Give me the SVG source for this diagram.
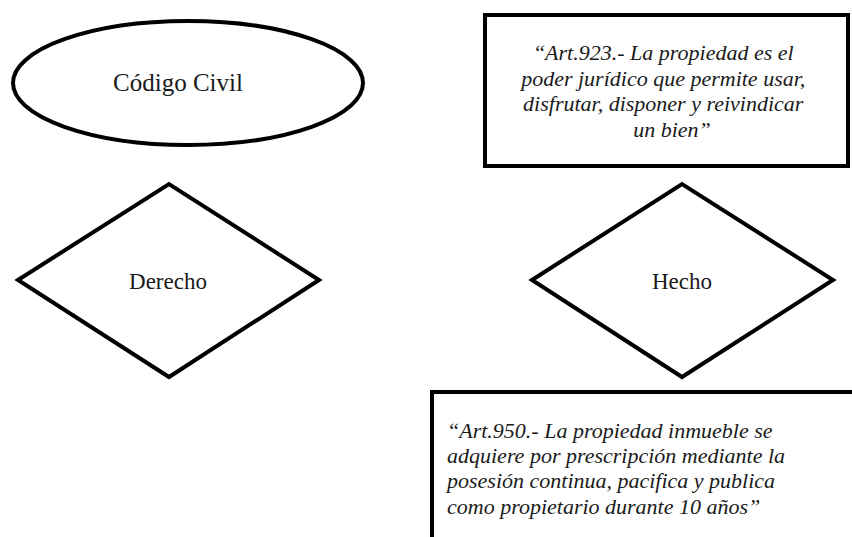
<svg xmlns="http://www.w3.org/2000/svg" width="852" height="537" viewBox="0 0 852 537">
<style>
.shape{fill:#fff;stroke:#000;stroke-width:4;stroke-linejoin:miter}
.lbl{font-family:"Liberation Serif",serif;fill:#1a1a1a}
.quote{font-family:"Liberation Serif",serif;font-style:italic;font-size:22px;fill:#1a1a1a}
</style>
<rect width="852" height="537" fill="#fff"/>
<g id="connectors"></g>
<g id="codigo-civil">
<ellipse class="shape" cx="188" cy="83" rx="175" ry="62" stroke-width="3.5"/>
<text class="lbl" x="178" y="91" font-size="25" text-anchor="middle">Código Civil</text>
</g>
<g id="art923">
<rect class="shape" x="485" y="15" width="363" height="151"/>
<text class="quote" text-anchor="middle">
<tspan x="666" y="60">“Art.923.- La propiedad es el</tspan>
<tspan x="666" y="86">poder jurídico que permite usar,</tspan>
<tspan x="666" y="111">disfrutar, disponer y reivindicar</tspan>
<tspan x="672" y="137">un bien”</tspan>
</text>
</g>
<g id="derecho">
<polygon class="shape" points="18,280 169,184 319,280 169,377"/>
<text class="lbl" x="168" y="289" font-size="23" text-anchor="middle">Derecho</text>
</g>
<g id="hecho">
<polygon class="shape" points="532,280 682,184 833,280 682,377"/>
<text class="lbl" x="682" y="289" font-size="23" text-anchor="middle">Hecho</text>
</g>
<g id="art950">
<rect class="shape" x="432" y="392" width="440" height="170"/>
<text class="quote">
<tspan x="447" y="438">“Art.950.- La propiedad inmueble se</tspan>
<tspan x="447" y="463">adquiere por prescripción mediante la</tspan>
<tspan x="447" y="488">posesión continua, pacifica y publica</tspan>
<tspan x="447" y="514">como propietario durante 10 años”</tspan>
</text>
</g>
</svg>
